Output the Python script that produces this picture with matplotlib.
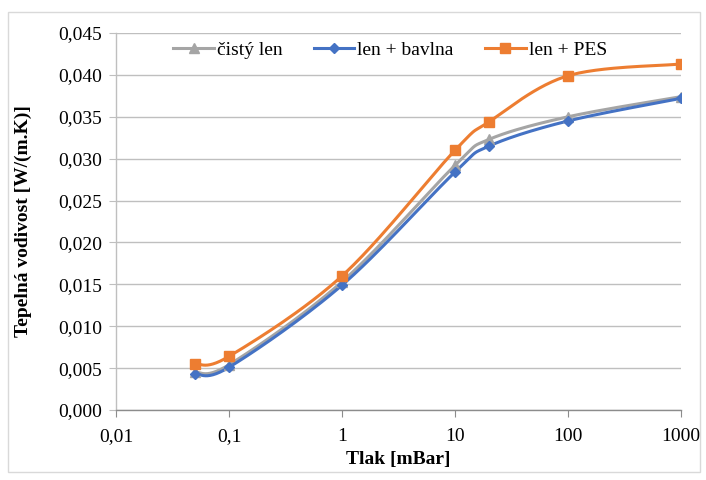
import numpy as np
import matplotlib.pyplot as plt
from matplotlib.patches import Rectangle
from matplotlib.ticker import FixedLocator, FuncFormatter

# data
tlak = [0.05, 0.1, 1, 10, 20, 100, 1000]
cisty_len = [0.0045, 0.0054, 0.0153, 0.0292, 0.0323, 0.0350, 0.0374]
len_bavlna = [0.0043, 0.0051, 0.0149, 0.0284, 0.0315, 0.0345, 0.0372]
len_pes = [0.0055, 0.0064, 0.0160, 0.0310, 0.0344, 0.0399, 0.0413]

x_ticks = [0.01, 0.1, 1, 10, 100, 1000]
x_labels = ['0,01', '0,1', '1', '10', '100', '1000']

plt.rcParams['font.family'] = ['Liberation Serif', 'DejaVu Serif']


def smooth(xs, ys, n=30):
    # Catmull-Rom style smoothing in log-x space (like Excel smoothed lines)
    lx = np.log10(xs)
    ys = np.asarray(ys)
    px, py = [], []
    for i in range(len(lx) - 1):
        x0, x1 = lx[i], lx[i + 1]
        y0, y1 = ys[i], ys[i + 1]
        xm = lx[i - 1] if i > 0 else x0
        ym = ys[i - 1] if i > 0 else y0
        xp = lx[i + 2] if i + 2 < len(lx) else x1
        yp = ys[i + 2] if i + 2 < len(ys) else y1
        c1x, c1y = x0 + (x1 - xm) / 6, y0 + (y1 - ym) / 6
        c2x, c2y = x1 - (xp - x0) / 6, y1 - (yp - y0) / 6
        t = np.linspace(0, 1, n)
        bx = (1-t)**3*x0 + 3*(1-t)**2*t*c1x + 3*(1-t)*t**2*c2x + t**3*x1
        by = (1-t)**3*y0 + 3*(1-t)**2*t*c1y + 3*(1-t)*t**2*c2y + t**3*y1
        px.extend(bx)
        py.extend(by)
    return 10 ** np.array(px), np.array(py)


fig = plt.figure(figsize=(7.06, 4.80), dpi=100)
ax = fig.add_axes([116/706, 1 - 410/480, (681-116)/706, (410-33)/480])

series = [
    ('čistý len', cisty_len, '#A5A5A5', '^', 7),
    ('len + bavlna', len_bavlna, '#4472C4', 'D', 5.5),
    ('len + PES', len_pes, '#ED7D31', 's', 7),
]
for name, vals, col, mk, ms in series:
    sx, sy = smooth(tlak, vals)
    ax.plot(sx, sy, color=col, lw=2.2, zorder=3)
    ax.plot(tlak, vals, linestyle='none', marker=mk, ms=ms, color=col, zorder=4)
    ax.plot([], [], color=col, lw=2.2, marker=mk, ms=ms, label=name)

ax.set_xscale('log')
ax.set_xlim(0.01, 1000)
ax.set_ylim(0, 0.045)
ax.xaxis.set_major_locator(FixedLocator(x_ticks))
ax.xaxis.set_minor_locator(FixedLocator([]))
ax.xaxis.set_major_formatter(FuncFormatter(lambda v, p: x_labels[x_ticks.index(v)] if v in x_ticks else ''))
ax.set_yticks(np.arange(0, 0.0451, 0.005))
ax.yaxis.set_major_formatter(FuncFormatter(lambda v, p: f'{v:.3f}'.replace('.', ',')))
ax.grid(axis='y', color='#BFBFBF', lw=1)
ax.set_axisbelow(True)

for s in ['top', 'right']:
    ax.spines[s].set_visible(False)
for s in ['left', 'bottom']:
    ax.spines[s].set_color('#BFBFBF')
    ax.spines[s].set_linewidth(1)
ax.spines['bottom'].set_color('#8C8C8C')
ax.tick_params(axis='y', colors='#BFBFBF', labelcolor='black', length=5, labelsize=14, pad=5)
ax.tick_params(axis='x', colors='#8C8C8C', labelcolor='black', length=5, labelsize=14, pad=8)

ax.set_xlabel('Tlak [mBar]', fontsize=14, fontweight='bold', labelpad=4)
ax.set_ylabel('Tepelná vodivost [W/(m.K)]', fontsize=14, fontweight='bold', labelpad=19)

leg = ax.legend(loc='upper center', bbox_to_anchor=(0.485, 0.99), ncol=3, frameon=True, framealpha=1,
                edgecolor='white', fontsize=14, handlelength=2.1, handletextpad=0.15,
                columnspacing=1.6, borderaxespad=0, borderpad=0.25)
leg.set_zorder(2)

fig.patches.append(Rectangle((8/706, 8/480), 692/706, 460/480, transform=fig.transFigure,
                             fill=False, edgecolor='#D9D9D9', lw=1))

fig.savefig('out.png', dpi=100)
